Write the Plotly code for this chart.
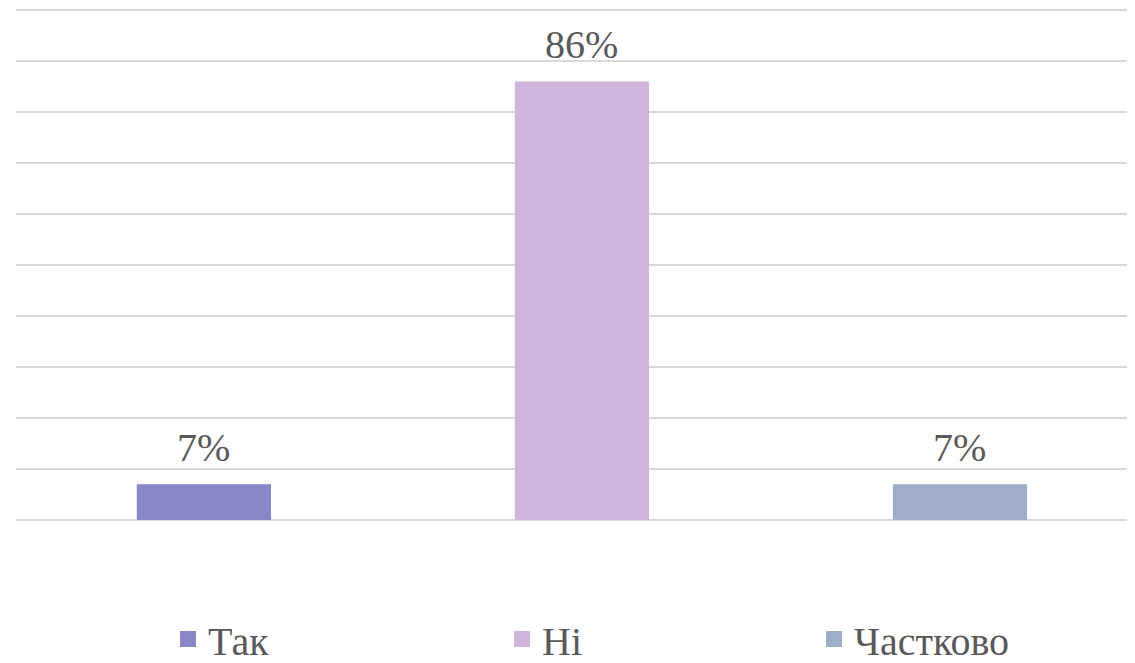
import plotly.graph_objects as go

categories = ["Так", "Ні", "Частково"]
values = [0.07, 0.86, 0.07]
labels = ["7%", "86%", "7%"]
colors = ["#8A87C8", "#CFB5DC", "#9FADC6"]

FONT = "Liberation Serif, Times New Roman, serif"
TXT = "#595959"
# page body has an 8px margin in the browser; figure fills the rest of the window
W, H = 1127, 655
ML, MR, MT, MB = 8, 0, 0, 143
pw = W - ML - MR
ph = H - MT - MB

fig = go.Figure()
legend_names = ["legend", "legend2", "legend3"]
for cat, v, c, lg in zip(categories, values, colors, legend_names):
    fig.add_trace(go.Bar(x=[cat], y=[v], name=cat, marker=dict(color=c, line=dict(width=0)),
                         width=0.355, showlegend=False, hoverinfo="skip"))
    fig.add_trace(go.Scatter(x=[None], y=[None], mode="markers", name=cat,
                             marker=dict(symbol="square", size=22, color=c, line=dict(width=0)),
                             legend=lg, showlegend=True))

for cat, v, t in zip(categories, values, labels):
    fig.add_annotation(x=cat, y=v, text=t, showarrow=False, yanchor="bottom",
                       yshift=12, font=dict(family=FONT, size=40, color=TXT))

# legend square centers (px, figure coords)
legend_px = [180, 514, 826]
legend_layout = {}
for lg, px in zip(legend_names, legend_px):
    legend_layout[lg] = dict(
        x=(px - 20 - ML) / pw, xanchor="left",
        y=(MT + ph - 631) / ph, yanchor="middle",
        yref="paper",
        orientation="h", bgcolor="rgba(0,0,0,0)",
        font=dict(family=FONT, size=40, color=TXT),
        itemclick=False, itemdoubleclick=False,
    )

fig.update_layout(
    width=W, height=H,
    margin=dict(l=ML, r=MR, t=MT, b=MB, autoexpand=False),
    paper_bgcolor="white", plot_bgcolor="white",
    font=dict(family=FONT, color=TXT),
    barmode="overlay",
    xaxis=dict(type="category", categoryorder="array", categoryarray=categories,
               range=[-0.497, 2.463], showticklabels=False, showgrid=False,
               zeroline=False, showline=False, fixedrange=True),
    yaxis=dict(range=[0, 1.004], tickmode="linear", tick0=0, dtick=0.1, showticklabels=False,
               gridcolor="#D9D9D9", gridwidth=1.5, zeroline=True, zerolinecolor="#D9D9D9",
               zerolinewidth=1.5, showline=False, fixedrange=True),
    **legend_layout,
)

fig.write_html("out.html", config={"displayModeBar": False})
